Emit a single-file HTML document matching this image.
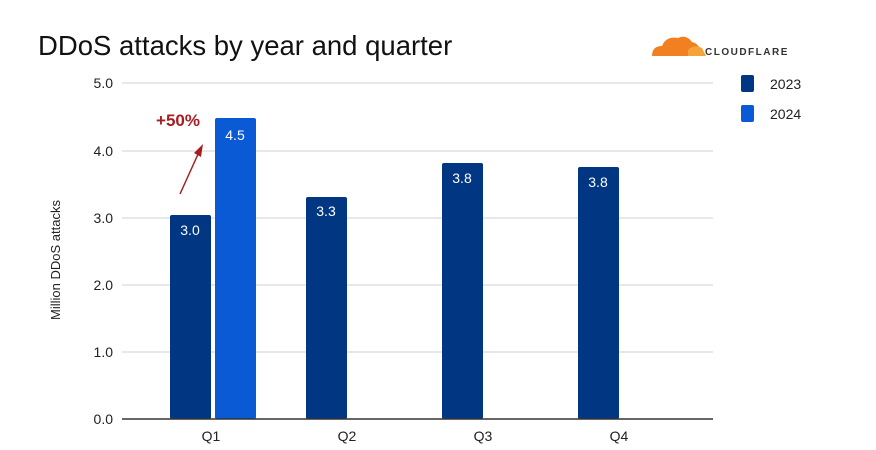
<!DOCTYPE html>
<html><head><meta charset="utf-8"><style>
body{margin:0;background:#fff;width:876px;height:445px;overflow:hidden}
svg text{font-family:"Liberation Sans",sans-serif}
</style></head><body>
<svg width="876" height="445" viewBox="0 0 876 445">
<text x="38" y="55" font-size="27.5" fill="#111">DDoS attacks by year and quarter</text>
<g>
<path d="M652 56 Q652 46 662 46 Q666 36 678 38 Q686 34 692 42 Q700 44 700 52 L700 56 Z" fill="#f38020"/>
<path d="M688 50 Q694 44 702 48 L706 56 L688 56 Z" fill="#f6a23a"/>
<text x="705" y="55" font-size="10" font-weight="bold" fill="#333" letter-spacing="1.5">CLOUDFLARE</text>
</g>
<g stroke="#d9d9d9" stroke-width="1.3">
<line x1="122" y1="83" x2="713" y2="83"/>
<line x1="122" y1="151" x2="713" y2="151"/>
<line x1="122" y1="218" x2="713" y2="218"/>
<line x1="122" y1="285" x2="713" y2="285"/>
<line x1="122" y1="352" x2="713" y2="352"/>
</g>
<g font-size="14" fill="#222" text-anchor="end">
<text x="113" y="88">5.0</text><text x="113" y="156">4.0</text><text x="113" y="223">3.0</text>
<text x="113" y="290">2.0</text><text x="113" y="357">1.0</text><text x="113" y="424">0.0</text>
</g>
<text transform="translate(60,260) rotate(-90)" font-size="13" fill="#222" text-anchor="middle">Million DDoS attacks</text>
<g fill="#003682">
<rect x="170" y="215" width="41" height="204" rx="2"/>
<rect x="306" y="197" width="41" height="222" rx="2"/>
<rect x="442" y="163" width="41" height="256" rx="2"/>
<rect x="578" y="167" width="41" height="252" rx="2"/>
</g>
<rect x="215" y="118" width="41" height="301" rx="2" fill="#0a5ad6"/>
<line x1="122" y1="419" x2="713" y2="419" stroke="#333" stroke-width="1.5"/>
<g font-size="14" fill="#fff" text-anchor="middle">
<text x="190" y="235">3.0</text><text x="235" y="140">4.5</text>
<text x="326" y="216">3.3</text><text x="462" y="183">3.8</text><text x="598" y="187">3.8</text>
</g>
<g font-size="14" fill="#222" text-anchor="middle">
<text x="211" y="441">Q1</text><text x="347" y="441">Q2</text><text x="483" y="441">Q3</text><text x="619" y="441">Q4</text>
</g>
<text x="178" y="126" font-size="17" font-weight="bold" fill="#a61e22" text-anchor="middle">+50%</text>
<line x1="180" y1="194" x2="199" y2="152" stroke="#a61e22" stroke-width="1.5"/>
<polygon points="203,144 201,157 194,153" fill="#a61e22"/>
<rect x="741" y="75" width="13" height="17" rx="2" fill="#003682"/>
<rect x="741" y="105" width="13" height="17" rx="2" fill="#0a5ad6"/>
<text x="770" y="89" font-size="14" fill="#222">2023</text>
<text x="770" y="119" font-size="14" fill="#222">2024</text>
</svg>
</body></html>
